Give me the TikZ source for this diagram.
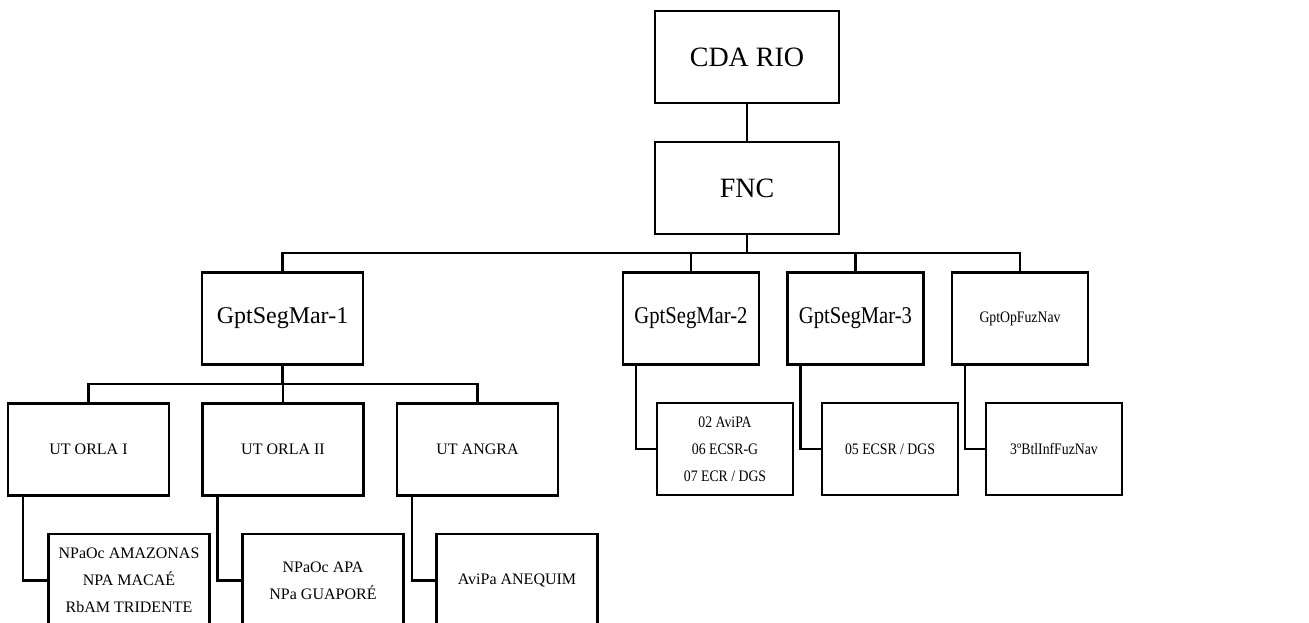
\documentclass[tikz,border=0pt]{standalone}
\usepackage{fontspec}
\setmainfont{Liberation Serif}
\newfontfamily\narrowserif{Liberation Serif}[FakeStretch=0.86]
\usetikzlibrary{positioning}

\begin{document}
\begin{tikzpicture}[x=1pt, y=-1pt, line width=2.5pt,
  box/.style={draw, rectangle, minimum width=136pt, minimum height=92pt, inner sep=0pt, align=center},
  wide/.style={minimum width=161pt},
  big/.style={font=\fontsize{28}{32}\selectfont},
  mid/.style={font=\fontsize{24}{28}\selectfont},
  midn/.style={font=\narrowserif\fontsize{24}{28}\selectfont},
  small/.style={font=\fontsize{16}{27}\selectfont},
  smalln/.style={font=\narrowserif\fontsize{16}{27}\selectfont}]
\useasboundingbox (0,0) rectangle (1309,622);
\clip (0,0) rectangle (1309,622);
% top
\node[box, minimum width=184pt, big] (cda) at (747,57) {CDA RIO};
\node[box, minimum width=184pt, big] (fnc) at (747,188) {FNC};
% groups
\node[box, wide, mid] (g1) at (282.5,318.5) {GptSegMar-1};
\node[box, midn] (g2) at (691,318.5) {GptSegMar-2};
\node[box, midn] (g3) at (855.5,318.5) {GptSegMar-3};
\node[box, smalln] (g4) at (1020,318.5) {GptOpFuzNav};
% units
\node[box, wide, small] (u1) at (88.5,449.5) {UT ORLA I};
\node[box, wide, small] (u2) at (283,449.5) {UT ORLA II};
\node[box, wide, small] (u3) at (477.5,449.5) {UT ANGRA};
\node[box, smalln] (s2) at (725,449) {02 AviPA\\06 ECSR-G\\07 ECR / DGS};
\node[box, smalln] (s3) at (890,449) {05 ECSR / DGS};
\node[box, smalln] (s4) at (1054,449) {3ºBtlInfFuzNav};
% ships
\node[box, wide, minimum height=93pt, small] (n1) at (129,580.5) {NPaOc AMAZONAS\\NPA MACAÉ\\RbAM TRIDENTE};
\node[box, wide, minimum height=93pt, small] (n2) at (323,580.5) {NPaOc APA\\NPa GUAPORÉ};
\node[box, wide, minimum height=93pt, small] (n3) at (517,580.5) {AviPa ANEQUIM};
\coordinate (bus1) at (0,253);
\coordinate (bus2) at (0,384);
\draw (cda) -- (fnc);
\draw (fnc.south) -- (fnc.south |- bus1) -| (g1.north);
\draw (fnc.south |- bus1) -| (g2.north);
\draw (fnc.south |- bus1) -| (g3.north);
\draw (fnc.south |- bus1) -| (g4.north);
\draw (g1.south) -- (g1.south |- bus2) -| (u1.north);
\draw (g1.south |- bus2) -| (u2.north);
\draw (g1.south |- bus2) -| (u3.north);
\draw ([xshift=14pt]g2.south west) |- (s2.west);
\draw ([xshift=14pt]g3.south west) |- (s3.west);
\draw ([xshift=14pt]g4.south west) |- (s4.west);
\draw ([xshift=16pt]u1.south west) |- (n1.west);
\draw ([xshift=16pt]u2.south west) |- (n2.west);
\draw ([xshift=16pt]u3.south west) |- (n3.west);
\end{tikzpicture}
\end{document}
